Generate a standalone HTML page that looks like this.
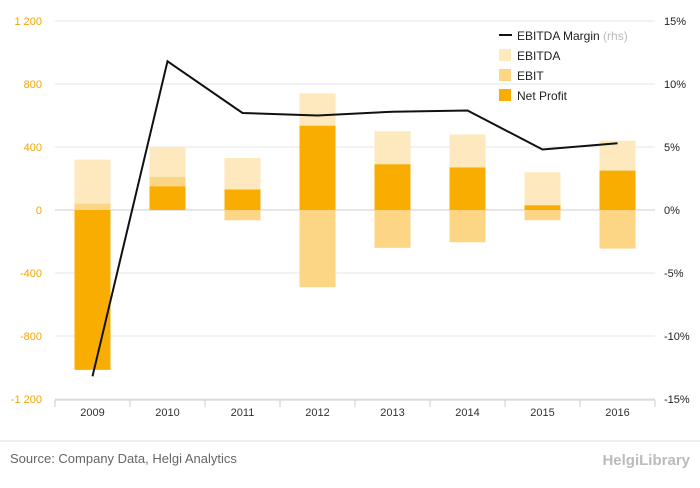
<!DOCTYPE html>
<html><head><meta charset="utf-8"><style>
body{margin:0;background:#fff;font-family:"Liberation Sans",sans-serif;}
svg text{font-family:"Liberation Sans",sans-serif;}
</style></head><body>
<svg width="700" height="483" viewBox="0 0 700 483">
<g id="grid"></g><g id="bars"></g><g id="line"></g><g id="axes"></g>
<g>
 <line x1="499" y1="35" x2="512" y2="35" stroke="#111" stroke-width="2"/>
 <text x="517" y="40" font-size="12" fill="#222">EBITDA Margin <tspan fill="#bbb">(rhs)</tspan></text>
 <rect x="499" y="49" width="12" height="12" fill="#fde9bd"/>
 <text x="517" y="60" font-size="12" fill="#222">EBITDA</text>
 <rect x="499" y="69" width="12" height="12" fill="#fcd684"/>
 <text x="517" y="80" font-size="12" fill="#222">EBIT</text>
 <rect x="499" y="89" width="12" height="12" fill="#f8ad00"/>
 <text x="517" y="100" font-size="12" fill="#222">Net Profit</text>
</g>
<line x1="0" y1="441" x2="700" y2="441" stroke="#ddd"/>
<text x="10" y="463" font-size="13" fill="#666">Source: Company Data, Helgi Analytics</text>
<text x="690" y="465" font-size="15" fill="#bbb" text-anchor="end" font-weight="bold">HelgiLibrary</text>
</svg>
<script>
const categories=["2009","2010","2011","2012","2013","2014","2015","2016"];
const ebitda=[320,400,330,740,500,480,240,440];
const ebit=[40,210,-65,-490,-240,-205,-65,-245];
const netProfit=[-1015,150,130,535,290,270,30,250];
const margin=[-13.2,11.8,7.7,7.5,7.8,7.9,4.8,5.3];
const leftTicks=[1200,800,400,0,-400,-800,-1200];
const rightTicks=[15,10,5,0,-5,-10,-15];
const NS="http://www.w3.org/2000/svg";
const X0=55,X1=655,Y0=21,Y1=399;
const yL=v=>Y0+(1200-v)/2400*(Y1-Y0);
const yR=v=>Y0+(15-v)/30*(Y1-Y0);
const band=(X1-X0)/categories.length;
const xC=i=>X0+band*(i+0.5);
function mk(tag,attrs,parent){const e=document.createElementNS(NS,tag);for(const k in attrs)e.setAttribute(k,attrs[k]);document.getElementById(parent).appendChild(e);return e;}
leftTicks.forEach((t,i)=>{
 const g=mk("line",{x1:X0,x2:X1,y1:yL(t),y2:yL(t),stroke:t===0?"#ccc":"#e6e6e6"},"grid");
 
 
 const l=mk("text",{x:42,y:yL(t)+4,"font-size":11,fill:"#f0a500","text-anchor":"end"},"axes");l.textContent=t.toLocaleString('fr-FR').replace(/\u202f|\u00a0/g,' ');
 
 
});
rightTicks.forEach(t=>{
 const l=mk("text",{x:664,y:yR(t)+4,"font-size":11,fill:"#222"},"axes");l.textContent=t+"%";
 
 
});
const ax=mk("line",{x1:X0,x2:X1,y1:Y1+1,y2:Y1+1,stroke:"#ccc"},"axes");


const t0=mk("line",{x1:X0,x2:X0,y1:Y1+1,y2:Y1+8,stroke:"#ccc"},"axes");


const bw=36;
function bar(v,i,fill,name){
 const y=Math.min(yL(0),yL(v)),h=Math.abs(yL(v)-yL(0));
 const r=mk("rect",{x:xC(i)-bw/2,y:y,width:bw,height:h,fill:fill},"bars");
 
 
}
categories.forEach((c,i)=>{
 bar(ebitda[i],i,"#fde9bd","bar-ebitda-"+c);
 bar(ebit[i],i,"#fcd684","bar-ebit-"+c);
 bar(netProfit[i],i,"#f8ad00","bar-net-profit-"+c);
 const t=mk("line",{x1:X0+band*(i+1),x2:X0+band*(i+1),y1:Y1+1,y2:Y1+8,stroke:"#ccc"},"axes");
 
 
 const l=mk("text",{x:xC(i),y:416,"font-size":11,fill:"#333","text-anchor":"middle"},"axes");l.textContent=c;
 
 
});
const p=mk("polyline",{points:margin.map((m,i)=>xC(i)+","+yR(m)).join(" "),fill:"none",stroke:"#111","stroke-width":2},"line");


</script>
</body></html>
